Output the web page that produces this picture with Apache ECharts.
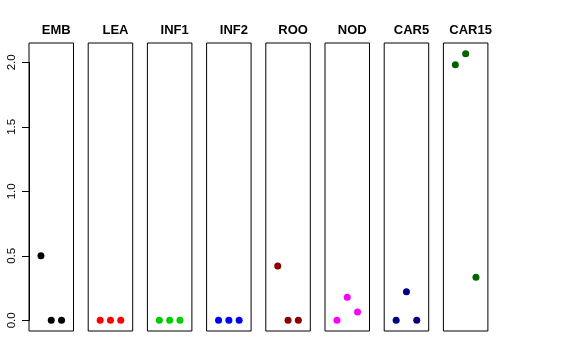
<!DOCTYPE html>
<html>
<head>
<meta charset="utf-8">
<script src="https://cdn.jsdelivr.net/npm/echarts@6/dist/echarts.min.js"></script>
<style>html,body{margin:0;padding:0;background:#fff;}#c{width:576px;height:360px;}</style>
</head>
<body>
<div id="c"></div>
<script>
var categories = ['EMB','LEA','INF1','INF2','ROO','NOD','CAR5','CAR15'];
var EMB   = [0.50, 0, 0];
var LEA   = [0, 0, 0];
var INF1  = [0, 0, 0];
var INF2  = [0, 0, 0];
var ROO   = [0.42, 0, 0];
var NOD   = [0, 0.178, 0.064];
var CAR5  = [0, 0.222, 0];
var CAR15 = [1.98, 2.067, 0.333];
var seriesValues = [EMB, LEA, INF1, INF2, ROO, NOD, CAR5, CAR15];
var colors = ['#000000','#FF0000','#00CD00','#0000FF','#8B0000','#FF00FF','#000080','#006400'];
var yTicks = [0, 0.5, 1, 1.5, 2];

var chart = echarts.init(document.getElementById('c'), null, {renderer:'canvas'});
var grids = [], xAxes = [], yAxes = [], series = [], titles = [];
var L0 = 29, step = 59.2, W = 44.5, TOP = 43, H = 288;
var yMin = -0.083, yMax = yMin + H/129;
categories.forEach(function(cat, i){
  var left = L0 + i*step;
  grids.push({left:left, top:TOP, width:W, height:H, show:true, borderColor:'#000', borderWidth:1, backgroundColor:'transparent'});
  xAxes.push({gridIndex:i, type:'value', min:-0.16, max:4.16, show:false});
  yAxes.push({gridIndex:i, type:'value', min:yMin, max:yMax, show:false});
  series.push({type:'scatter', xAxisIndex:i, yAxisIndex:i, symbolSize:7,
    itemStyle:{color:colors[i], opacity:1},
    data: seriesValues[i].map(function(v,k){return [k+1, v];})});
  titles.push({text:cat, left:left + W/2, top:19, textAlign:'center',
    textStyle:{fontFamily:'Liberation Sans', fontWeight:'bold', fontSize:13, color:'#000'}});
});
// axis overlay grid for y tick labels
var ai = categories.length;
grids.push({left:L0, top:320.3 - 2*129, width:W, height:2*129, show:false});
xAxes.push({gridIndex:ai, type:'value', min:0, max:1, show:false});
yAxes.push({gridIndex:ai, type:'value', min:yTicks[0], max:yTicks[yTicks.length-1], interval:0.5,
  axisLine:{show:true, lineStyle:{color:'#000', width:1}},
  axisTick:{show:true, length:7, lineStyle:{color:'#000'}},
  splitLine:{show:false},
  axisLabel:{rotate:90, margin:11, fontFamily:'Liberation Sans', fontSize:11.5, color:'#000',
    formatter:function(v){return v.toFixed(1);}}});
series.push({type:'scatter', xAxisIndex:ai, yAxisIndex:ai, data:[], silent:true});

chart.setOption({animation:false, backgroundColor:'#fff', title:titles, grid:grids, xAxis:xAxes, yAxis:yAxes, series:series});
</script>
</body>
</html>
